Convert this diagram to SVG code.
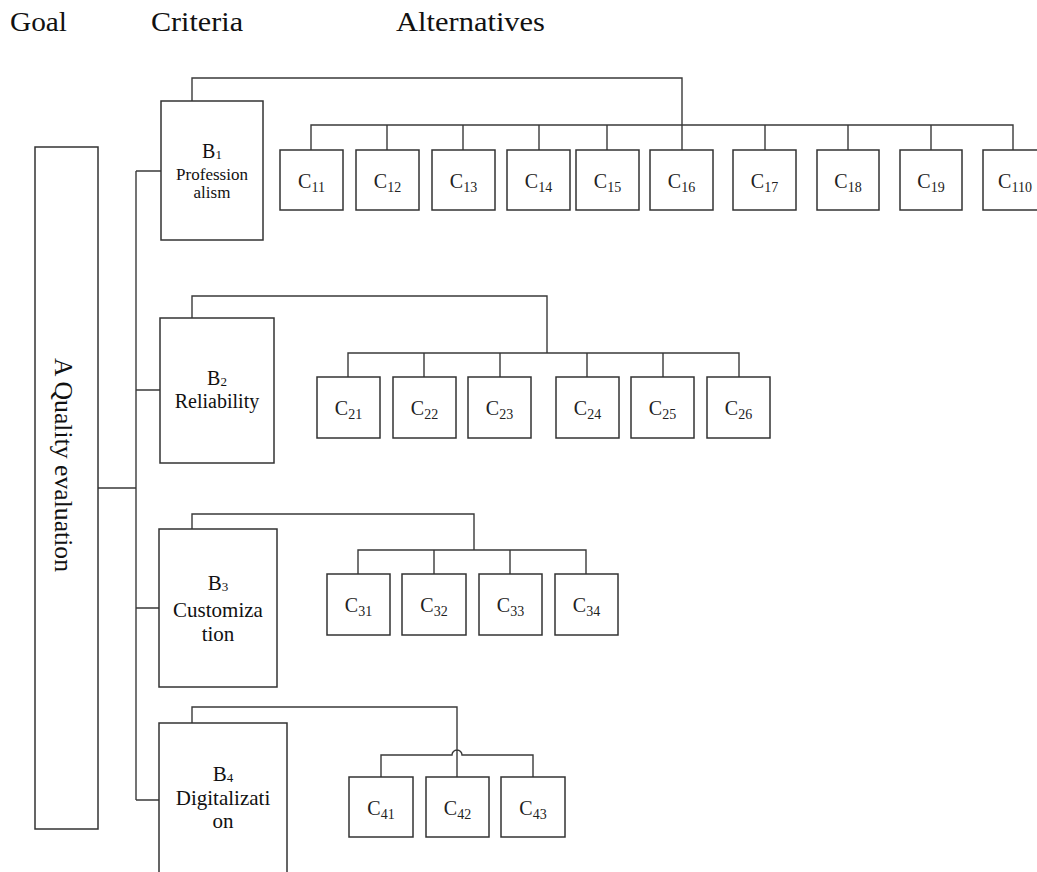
<svg xmlns="http://www.w3.org/2000/svg" width="1037" height="872" viewBox="0 0 1037 872">
<style>
.box{fill:#fff;stroke:#333;stroke-width:1.5}
.ln{fill:none;stroke:#3a3a3a;stroke-width:1.4}
.hd{font-family:'Liberation Serif',serif;font-size:27px;fill:#111}
.bl{font-family:'Liberation Serif',serif;fill:#111;text-anchor:middle}
.cl{font-family:'Liberation Serif',serif;font-size:20px;fill:#222;text-anchor:middle}
.sub{font-size:14px}
</style>
<rect width="1037" height="872" fill="#fff"/>
<g id="headers">
<text class="hd" x="10" y="31" textLength="57" lengthAdjust="spacingAndGlyphs">Goal</text>
<text class="hd" x="151" y="31" textLength="92" lengthAdjust="spacingAndGlyphs">Criteria</text>
<text class="hd" x="396" y="31" textLength="149" lengthAdjust="spacingAndGlyphs">Alternatives</text>
</g>
<g id="connectors">
<path class="ln" d="M98,488 H136 M136,171 V800 M136,171 H161 M136,390 H160 M136,608 H159 M136,800 H159"/>
<path class="ln" d="M192,101 V78 H682 V150 M311,150 V125 H1013 V150 M387,125 V150 M463,125 V150 M539,125 V150 M607,125 V150 M765,125 V150 M848,125 V150 M931,125 V150"/>
<path class="ln" d="M192,318 V296 H547 V353 M348,377 V353 H739 V377 M424,353 V377 M500,353 V377 M587,353 V377 M663,353 V377"/>
<path class="ln" d="M192,529 V514 H474 V550 M358,574 V550 H586 V574 M434,550 V574 M510,550 V574"/>
<path class="ln" d="M192,723 V707 H457 V777 M381,777 V755 H452 A5,5 0 0 1 462,755 H533 V777"/>
</g>
<g id="goal">
<rect class="box" x="35" y="147" width="63" height="682"/>
<text class="bl" font-size="25" transform="translate(55,465) rotate(90)" textLength="214" lengthAdjust="spacingAndGlyphs">A Quality evaluation</text>
</g>
<g id="B1">
<rect class="box" x="161" y="101" width="102" height="139"/>
<text class="bl" x="212" y="158" font-size="20">B<tspan font-size="13" dy="1">1</tspan></text>
<text class="bl" x="212" y="180" font-size="17">Profession</text>
<text class="bl" x="212" y="198" font-size="17">alism</text>
</g>
<g id="B2">
<rect class="box" x="160" y="318" width="114" height="145"/>
<text class="bl" x="217" y="385" font-size="20">B<tspan font-size="13" dy="1">2</tspan></text>
<text class="bl" x="217" y="408" font-size="20">Reliability</text>
</g>
<g id="B3">
<rect class="box" x="159" y="529" width="118" height="158"/>
<text class="bl" x="218" y="590" font-size="21">B<tspan font-size="13" dy="1">3</tspan></text>
<text class="bl" x="218" y="617" font-size="21">Customiza</text>
<text class="bl" x="218" y="641" font-size="21">tion</text>
</g>
<g id="B4">
<rect class="box" x="159" y="723" width="128" height="160"/>
<text class="bl" x="223" y="781" font-size="21">B<tspan font-size="13" dy="1">4</tspan></text>
<text class="bl" x="223" y="805" font-size="21">Digitalizati</text>
<text class="bl" x="223" y="828" font-size="21">on</text>
</g>
<g id="C11"><rect class="box" x="280" y="150" width="63" height="60"/><text class="cl" x="311.5" y="188">C<tspan class="sub" dy="4">11</tspan></text></g>
<g id="C12"><rect class="box" x="356" y="150" width="63" height="60"/><text class="cl" x="387.5" y="188">C<tspan class="sub" dy="4">12</tspan></text></g>
<g id="C13"><rect class="box" x="432" y="150" width="63" height="60"/><text class="cl" x="463.5" y="188">C<tspan class="sub" dy="4">13</tspan></text></g>
<g id="C14"><rect class="box" x="507" y="150" width="63" height="60"/><text class="cl" x="538.5" y="188">C<tspan class="sub" dy="4">14</tspan></text></g>
<g id="C15"><rect class="box" x="576" y="150" width="63" height="60"/><text class="cl" x="607.5" y="188">C<tspan class="sub" dy="4">15</tspan></text></g>
<g id="C16"><rect class="box" x="650" y="150" width="63" height="60"/><text class="cl" x="681.5" y="188">C<tspan class="sub" dy="4">16</tspan></text></g>
<g id="C17"><rect class="box" x="733" y="150" width="63" height="60"/><text class="cl" x="764.5" y="188">C<tspan class="sub" dy="4">17</tspan></text></g>
<g id="C18"><rect class="box" x="817" y="150" width="62" height="60"/><text class="cl" x="848" y="188">C<tspan class="sub" dy="4">18</tspan></text></g>
<g id="C19"><rect class="box" x="900" y="150" width="62" height="60"/><text class="cl" x="931" y="188">C<tspan class="sub" dy="4">19</tspan></text></g>
<g id="C110"><rect class="box" x="983" y="150" width="63" height="60"/><text class="cl" x="1015" y="188">C<tspan class="sub" dy="4">110</tspan></text></g>
<g id="C21"><rect class="box" x="317" y="377" width="63" height="61"/><text class="cl" x="348.5" y="415">C<tspan class="sub" dy="4">21</tspan></text></g>
<g id="C22"><rect class="box" x="393" y="377" width="63" height="61"/><text class="cl" x="424.5" y="415">C<tspan class="sub" dy="4">22</tspan></text></g>
<g id="C23"><rect class="box" x="468" y="377" width="63" height="61"/><text class="cl" x="499.5" y="415">C<tspan class="sub" dy="4">23</tspan></text></g>
<g id="C24"><rect class="box" x="556" y="377" width="63" height="61"/><text class="cl" x="587.5" y="415">C<tspan class="sub" dy="4">24</tspan></text></g>
<g id="C25"><rect class="box" x="631" y="377" width="63" height="61"/><text class="cl" x="662.5" y="415">C<tspan class="sub" dy="4">25</tspan></text></g>
<g id="C26"><rect class="box" x="707" y="377" width="63" height="61"/><text class="cl" x="738.5" y="415">C<tspan class="sub" dy="4">26</tspan></text></g>
<g id="C31"><rect class="box" x="327" y="574" width="63" height="61"/><text class="cl" x="358.5" y="612">C<tspan class="sub" dy="4">31</tspan></text></g>
<g id="C32"><rect class="box" x="402" y="574" width="64" height="61"/><text class="cl" x="434" y="612">C<tspan class="sub" dy="4">32</tspan></text></g>
<g id="C33"><rect class="box" x="479" y="574" width="63" height="61"/><text class="cl" x="510.5" y="612">C<tspan class="sub" dy="4">33</tspan></text></g>
<g id="C34"><rect class="box" x="555" y="574" width="63" height="61"/><text class="cl" x="586.5" y="612">C<tspan class="sub" dy="4">34</tspan></text></g>
<g id="C41"><rect class="box" x="349" y="777" width="64" height="60"/><text class="cl" x="381" y="815">C<tspan class="sub" dy="4">41</tspan></text></g>
<g id="C42"><rect class="box" x="426" y="777" width="63" height="60"/><text class="cl" x="457.5" y="815">C<tspan class="sub" dy="4">42</tspan></text></g>
<g id="C43"><rect class="box" x="501" y="777" width="64" height="60"/><text class="cl" x="533" y="815">C<tspan class="sub" dy="4">43</tspan></text></g>
</svg>
